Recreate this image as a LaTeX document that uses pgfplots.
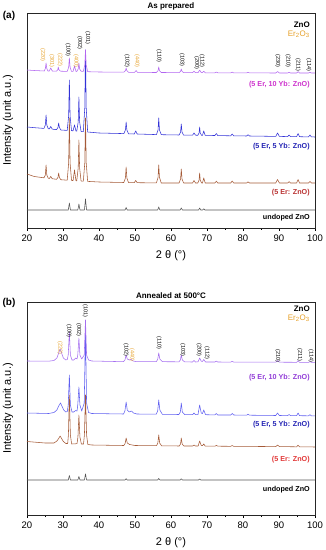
\documentclass[border=0pt]{standalone}
\usepackage{fontspec}
\setmainfont{Liberation Sans}
\usepackage{pgfplots}
\pgfplotsset{compat=1.18}
\definecolor{cpurA}{RGB}{178,102,240}
\definecolor{cbluA}{RGB}{50,50,215}
\definecolor{cbro}{RGB}{165,90,55}
\definecolor{cgry}{RGB}{85,85,85}
\definecolor{cpurB}{RGB}{165,110,240}
\definecolor{cbluB}{RGB}{95,95,240}
\definecolor{corg}{RGB}{230,160,40}
\definecolor{lmag}{RGB}{205,50,205}
\definecolor{lvio}{RGB}{145,60,215}
\definecolor{lblu}{RGB}{35,35,180}
\definecolor{lredA}{RGB}{185,50,50}
\definecolor{lredB}{RGB}{225,55,55}
\tikzset{
  mi/.style={rotate=-90, anchor=east, font=\fontsize{5.5}{6}\selectfont, inner sep=0.4pt},
  sl/.style={anchor=east, font=\bfseries\fontsize{7.2}{8}\selectfont, inner sep=0pt},
}
\pgfplotsset{xrd/.style={
  scale only axis, width=288pt, xmin=20, xmax=100, ymin=0,
  xtick={20,30,...,100}, minor x tick num=1, ytick=\empty,
  tick align=outside, xtick pos=left,
  major tick length=3pt, minor tick length=2pt, clip=false,
  axis line style={line width=0.7pt, black!85},
  every tick/.style={black, line width=0.6pt},
  xticklabel style={font=\fontsize{9.5}{11}\selectfont},
  /pgf/number format/assume math mode=true,
  xlabel={2 θ (°)}, ylabel={Intensity (unit a.u.)},
  xlabel style={font=\fontsize{11}{13}\selectfont, at={(axis description cs:0.5,-0.13)}, anchor=center},
  ylabel style={font=\fontsize{11}{13}\selectfont, at={(axis description cs:-0.066,0.5)}, anchor=center},
  every axis plot/.append style={line width=0.55pt, line join=round},
}}
\begin{document}
\begin{tikzpicture}
\path[use as bounding box] (0,0) rectangle (325pt,550pt);
% ---------------- (a) ----------------
\begin{axis}[xrd, at={(27pt,322pt)}, anchor=south west, height=215pt, ymax=215]
\addplot[cbluA] coordinates {(20,101)(22.5,100.2)(24.7,99.6)(25.1,103)(25.3,113)(25.5,103)(25.9,99.3)(26.2,99.1)(26.6,101.5)(27.0,98.9)(28.2,98.3)(28.6,100.5)(28.8,105)(29.0,100.5)(29.4,98)(31.17,97.6)(31.57,112)(31.77,148)(31.97,112)(32.37,97.3)(32.8,97.2)(33.2,103)(33.6,97)(33.82,96.8)(34.22,106)(34.42,131)(34.62,106)(35.02,96.5)(35.65,96.3)(36.05,120)(36.25,178)(36.45,120)(36.85,96)(40,95)(46.9,94.4)(47.34,98)(47.54,106)(47.74,98)(48.2,94.2)(49.8,94)(50.2,97)(50.6,94)(55.95,93.4)(56.4,98)(56.6,110)(56.8,98)(57.3,93.3)(62.25,93)(62.66,96)(62.86,104)(63.06,96)(63.5,92.9)(66.0,92.8)(66.4,95)(66.8,92.8)(67.45,92.7)(67.8,95)(67.96,101)(68.12,95)(68.5,92.7)(68.75,92.7)(69.1,97)(69.5,92.6)(72.2,92.5)(72.6,94.5)(73.0,92.4)(76.6,92.2)(77,94)(77.4,92.2)(81,92)(81.4,93.3)(81.8,92)(89.1,91.6)(89.6,95)(90.1,91.6)(92.4,91.4)(92.8,93)(93.2,91.4)(94.9,91.3)(95.3,94.5)(95.7,91.3)(98.2,91.1)(98.6,93)(99,91.1)(100,91)};
\addplot[cpurA] coordinates {(20,158)(22,157.5)(24.8,157)(25.1,159.5)(25.3,165)(25.5,159.5)(25.8,157)(26.2,157)(26.6,160)(27.0,157)(28.2,156.8)(28.55,158.3)(28.7,161)(28.85,158.3)(29.3,156.8)(31.17,156.6)(31.57,160.6)(31.77,170)(31.97,160.6)(32.37,156.6)(32.8,156.6)(33.2,162)(33.6,156.6)(33.82,156.5)(34.22,159)(34.42,165)(34.62,159)(35.02,156.8)(35.65,156.6)(36.05,163)(36.25,178)(36.45,163)(36.85,156.3)(40,156)(46.9,155.8)(47.34,157.3)(47.54,160)(47.74,157.3)(48.2,155.7)(49.9,155.7)(50.3,157.5)(50.7,155.6)(55.95,155.5)(56.4,157.3)(56.6,161)(56.8,157.3)(57.3,155.5)(62.25,155.4)(62.66,156.6)(62.86,159)(63.06,156.6)(63.5,155.4)(66.0,155.3)(66.4,156.8)(66.8,155.3)(67.5,155.3)(67.96,157.8)(68.4,155.4)(68.7,155.3)(69.1,156.7)(69.5,155.2)(72.2,155.2)(72.6,156)(73.0,155.2)(76.6,155.1)(77,155.9)(77.4,155.1)(81,155.1)(81.4,155.7)(81.8,155.1)(89.1,155)(89.6,156.5)(90.1,155)(92.4,155)(92.8,155.6)(93.2,155)(94.9,155)(95.3,156.4)(95.7,155)(98.2,155)(98.6,155.6)(99,155)(100,155)};
\addplot[cbro] coordinates {(20,54)(22,51.5)(24.7,50.2)(25.1,53)(25.3,63)(25.5,53)(25.9,49.8)(26.2,49.5)(26.6,51.5)(27.0,49.3)(28.2,48.7)(28.6,50.5)(28.8,55)(29.0,50.5)(29.4,48.3)(31.17,47.8)(31.57,65)(31.77,110)(31.97,65)(32.37,47.6)(32.8,47.4)(33.2,58)(33.6,47.3)(33.82,47.2)(34.22,60)(34.42,88)(34.62,60)(35.02,47)(35.65,46.8)(36.05,65)(36.25,110)(36.45,65)(36.85,46.6)(40,46)(46.9,45.5)(47.34,50)(47.54,61)(47.74,50)(48.2,45.4)(49.8,45.3)(50.2,47.5)(50.6,45.3)(55.95,45.1)(56.4,50.5)(56.6,63)(56.8,50.5)(57.3,45)(62.25,45)(62.66,49)(62.86,59)(63.06,49)(63.5,45)(66.0,45)(66.4,47.5)(66.8,45)(67.45,45)(67.8,48)(67.96,55)(68.12,48)(68.5,45)(68.75,45)(69.1,50)(69.5,45)(72.2,45)(72.6,46.8)(73.0,45)(76.6,45)(77,47)(77.4,45)(81,45)(81.4,46.2)(81.8,45)(89.1,45)(89.6,48.5)(90.1,45)(92.4,45)(92.8,46.3)(93.2,45)(94.9,45)(95.3,48.5)(95.7,45)(98.2,45)(98.6,46.5)(99,45)(100,45)};
\addplot[cgry] coordinates {(20,18)(31.47,18)(31.77,25)(32.07,18)(34.12,18)(34.42,24)(34.72,18)(35.95,18)(36.25,29)(36.55,18)(47.24,18)(47.54,20.5)(47.84,18)(56.3,18)(56.6,21)(56.9,18)(62.56,18)(62.86,20)(63.16,18)(67.66,18)(67.96,20)(68.26,18)(68.8,18)(69.1,19.2)(69.4,18)(100,18)};
% Miller indices
\node[mi, corg] at (axis cs:24.4,166) {(220)};
\node[mi, corg] at (axis cs:26.9,160) {(301)};
\node[mi, corg] at (axis cs:29.2,161) {(222)};
\node[mi] at (axis cs:31.4,171) {(100)};
\node[mi, corg] at (axis cs:33.6,160) {(400)};
\node[mi] at (axis cs:34.7,178) {(002)};
\node[mi] at (axis cs:36.9,183) {(101)};
\node[mi] at (axis cs:47.8,160) {(102)};
\node[mi, corg] at (axis cs:50.6,160) {(440)};
\node[mi] at (axis cs:56.7,165) {(110)};
\node[mi] at (axis cs:63.1,161) {(103)};
\node[mi] at (axis cs:67.2,158) {(200)};
\node[mi] at (axis cs:68.6,160) {(112)};
\node[mi] at (axis cs:89.7,160) {(230)};
\node[mi] at (axis cs:92.5,160) {(210)};
\node[mi] at (axis cs:95.3,156) {(211)};
\node[mi] at (axis cs:98.3,156) {(114)};
% legend-like texts
\node[anchor=east, inner sep=0pt, font=\bfseries\fontsize{8}{9}\selectfont] at (axis cs:98.6,203) {ZnO};
\node[anchor=east, inner sep=0pt, font=\fontsize{8}{9}\selectfont, corg] at (axis cs:98.6,194) {Er\textsubscript{2}O\textsubscript{3}};
\node[sl, lmag] at (axis cs:98.6,143) {(5 Er, 10 Yb: ZnO)};
\node[sl, lblu] at (axis cs:98.6,81) {(5 Er, 5 Yb: ZnO)};
\node[sl, lredA] at (axis cs:98.6,35) {(5 Er: ZnO)};
\node[sl, black] at (axis cs:98.6,10) {undoped ZnO};
\node[anchor=south, inner sep=1pt, font=\bfseries\fontsize{8}{9}\selectfont] at (rel axis cs:0.5,1) [yshift=2pt] {As prepared};
\node[font=\bfseries\fontsize{10}{11}\selectfont] at (rel axis cs:0,1) [xshift=-18pt, yshift=-3pt] {(a)};
\end{axis}
% ---------------- (b) ----------------
\begin{axis}[xrd, at={(27pt,35pt)}, anchor=south west, height=213pt, ymax=213]
\addplot[cbluB] coordinates {(20,102)(26,101.5)(27.5,102.5)(28.3,105)(28.8,109)(29.3,112)(29.7,109)(30.2,105)(30.8,103)(31.2,103.5)(31.45,110)(31.77,140)(32.05,110)(32.5,103)(33,103)(33.5,104.5)(33.9,104)(34.1,110)(34.42,128)(34.7,110)(35.2,104)(35.9,112)(36.25,185)(36.55,112)(37.1,102.5)(38,101.5)(46.8,101)(47.2,104)(47.54,113)(47.85,105)(48.4,103)(49,104)(49.6,102)(50.5,101)(55.9,100.8)(56.3,104)(56.6,115)(56.9,105)(57.6,100.7)(62.2,100.5)(62.6,103)(62.86,112)(63.15,103)(63.8,100.4)(66,100.3)(66.4,102)(66.8,100.3)(67.5,100.4)(67.96,110)(68.4,102)(68.75,101.5)(69.1,105)(69.6,100.3)(72.2,100.1)(72.6,101.5)(73,100)(76.6,100)(77,101.5)(77.4,100)(81,99.8)(81.4,100.8)(81.8,99.8)(89.1,99.5)(89.6,102)(90.1,99.5)(92.4,99.4)(92.8,100.5)(93.2,99.4)(94.9,99.3)(95.3,102)(95.7,99.3)(98.2,99.2)(98.6,100.3)(99,99.2)(100,99.1)};
\addplot[cpurB] coordinates {(20,154)(26,153.8)(27.5,154.5)(28.3,157)(28.8,162)(29.2,166)(29.6,162)(30.1,157)(30.8,155)(31.2,155.5)(31.45,160)(31.77,183)(32.05,160)(32.5,155)(33.0,155)(33.5,157)(33.9,156)(34.1,160)(34.42,177)(34.7,160)(35.2,156)(35.9,160)(36.25,195)(36.55,160)(37.1,155)(38,154)(46.8,153.3)(47.2,155)(47.54,160)(47.85,156)(48.4,155)(48.9,155.5)(49.5,154)(50.5,153.3)(55.9,153.3)(56.3,155.5)(56.6,162)(56.9,156)(57.6,153.3)(62.2,153.2)(62.6,155)(62.86,160)(63.15,155)(63.8,153.1)(66,153)(66.4,154.5)(66.8,153)(67.5,153.1)(67.96,157)(68.4,153.8)(68.75,153.5)(69.1,155.5)(69.6,153)(72.2,153)(72.6,153.8)(73,153)(76.6,152.9)(77,153.7)(77.4,152.9)(89.1,152.8)(89.6,154.5)(90.1,152.8)(94.9,152.7)(95.3,154.3)(95.7,152.7)(98.2,152.6)(98.6,153.4)(99,152.6)(100,152.6)};
\addplot[cbro] coordinates {(20,73.5)(25,72)(27.5,72)(28.3,74)(28.8,76.5)(29.2,79)(29.6,76.5)(30.1,73.5)(30.8,71.5)(31.3,71.5)(31.5,80)(31.77,120)(32.05,80)(32.4,71)(33.5,71.2)(33.9,71.5)(34.15,78)(34.42,100)(34.7,78)(35.1,71)(35.7,71)(35.95,80)(36.25,120)(36.55,80)(36.9,70.5)(38,70)(46.9,69.5)(47.25,71.5)(47.54,77)(47.85,72)(48.5,70.5)(50,69.5)(56.0,69.3)(56.35,72)(56.6,80)(56.85,72)(57.4,69.2)(62.3,69)(62.65,71)(62.86,77)(63.1,71)(63.6,69)(66,69)(66.4,70)(66.8,69)(67.55,69)(67.96,74)(68.4,69.5)(68.75,69.3)(69.1,71)(69.5,68.9)(72.2,68.8)(72.6,69.6)(73,68.8)(76.6,68.7)(77,69.5)(77.4,68.7)(89.1,68.4)(89.6,70)(90.1,68.4)(94.9,68.2)(95.3,69.8)(95.7,68.2)(100,68)};
\addplot[cgry] coordinates {(20,35)(31.47,35)(31.77,39.5)(32.07,35)(34.12,35)(34.42,38.5)(34.72,35)(35.95,35)(36.25,41)(36.55,35)(47.24,35)(47.54,36.3)(47.84,35)(56.3,35)(56.6,36.6)(56.9,35)(62.56,35)(62.86,36.2)(63.16,35)(67.66,35)(67.96,36)(68.26,35)(100,35)};
\node[mi, corg] at (axis cs:29.2,160) {(222)};
\node[mi] at (axis cs:31.7,177) {(100)};
\node[mi] at (axis cs:34.4,178) {(002)};
\node[mi] at (axis cs:36.2,197) {(101)};
\node[mi] at (axis cs:47.5,158) {(102)};
\node[mi, corg] at (axis cs:49.2,153) {(440)};
\node[mi] at (axis cs:56.7,165) {(110)};
\node[mi] at (axis cs:63.3,158) {(103)};
\node[mi] at (axis cs:67.8,158) {(200)};
\node[mi] at (axis cs:70.0,155) {(112)};
\node[mi] at (axis cs:89.7,152) {(210)};
\node[mi] at (axis cs:95.8,153) {(211)};
\node[mi] at (axis cs:98.9,152) {(114)};
\node[anchor=east, inner sep=0pt, font=\bfseries\fontsize{8}{9}\selectfont] at (axis cs:98.6,206) {ZnO};
\node[anchor=east, inner sep=0pt, font=\fontsize{8}{9}\selectfont, corg] at (axis cs:98.6,197) {Er\textsubscript{2}O\textsubscript{3}};
\node[sl, lvio] at (axis cs:98.6,137) {(5 Er, 10 Yb: ZnO)};
\node[sl, lblu] at (axis cs:98.6,90) {(5 Er, 5 Yb: ZnO)};
\node[sl, lredB] at (axis cs:98.6,55) {(5 Er: ZnO)};
\node[sl, black] at (axis cs:98.6,25) {undoped ZnO};
\node[anchor=south, inner sep=1pt, font=\bfseries\fontsize{8}{9}\selectfont] at (rel axis cs:0.5,1) [yshift=2pt] {Annealed at 500°C};
\node[font=\bfseries\fontsize{10}{11}\selectfont] at (rel axis cs:0,1) [xshift=-18pt, yshift=-1pt] {(b)};
\end{axis}
\end{tikzpicture}
\end{document}
